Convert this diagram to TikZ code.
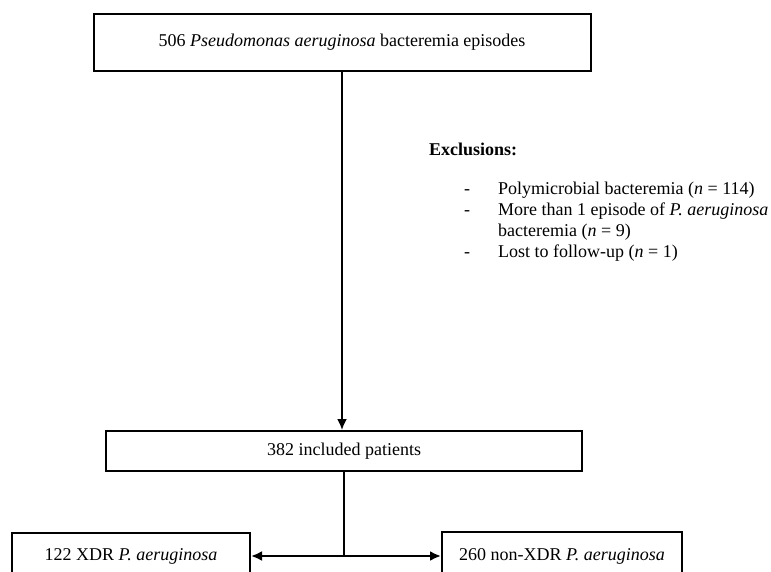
\documentclass[tikz,border=0pt]{standalone}
\usepackage{fontspec}
\setmainfont{Liberation Serif}
\usetikzlibrary{arrows.meta}
\tikzset
    { flow box/.style =
        { draw
        , line width = 2pt
        , inner sep = 0pt
        , font = \fontsize{18}{21}\selectfont
        }
    , flow line/.style =
        { line width = 1.8pt
        , -{Latex[length=11pt, width=10pt]}
        }
    , flow text/.style =
        { inner sep = 0pt
        , font = \fontsize{18}{21}\selectfont
        }
    }

\begin{document}
\begin{tikzpicture}[x=1pt, y=-1pt]

            \clip (0, 0) rectangle (771, 572);

            \node[flow box, minimum width=497pt, minimum height=57pt] (episodes) at (342, 42.5)
                {506 \textit{Pseudomonas aeruginosa} bacteremia episodes};
            \node[flow box, minimum width=476pt, minimum height=40pt] (included) at (344, 451)
                {382 included patients};
            \node[flow box, minimum width=238pt, minimum height=46pt] (xdr) at (131, 556)
                {122 XDR \textit{P. aeruginosa}};
            \node[flow box, minimum width=240pt, minimum height=48pt] (nonxdr) at (562, 556)
                {260 non-XDR \textit{P. aeruginosa}};

            \node[flow text, anchor=west, font=\fontsize{18}{21}\selectfont\bfseries] (exclhead) at (429, 149) {Exclusions:};
            \node[flow text, anchor=north west] (excllist) at (464, 180)
                {\begin{tabular}{@{}p{34pt}@{}l@{}}
                    - & Polymicrobial bacteremia (\textit{n} = 114) \\
                    - & More than 1 episode of \textit{P. aeruginosa} \\
                      & bacteremia (\textit{n} = 9) \\
                    - & Lost to follow-up (\textit{n} = 1)
                 \end{tabular}};

            \draw[flow line] (episodes.south) -- (episodes.south |- included.north);
            \draw[flow line, -] (included.south) -- (included.south |- xdr.east) coordinate (split);
            \draw[flow line, line width=2.5pt] (split) -- (xdr.east);
            \draw[flow line, line width=2.5pt] (split) -- (nonxdr.west);

        \end{tikzpicture}
\end{document}
